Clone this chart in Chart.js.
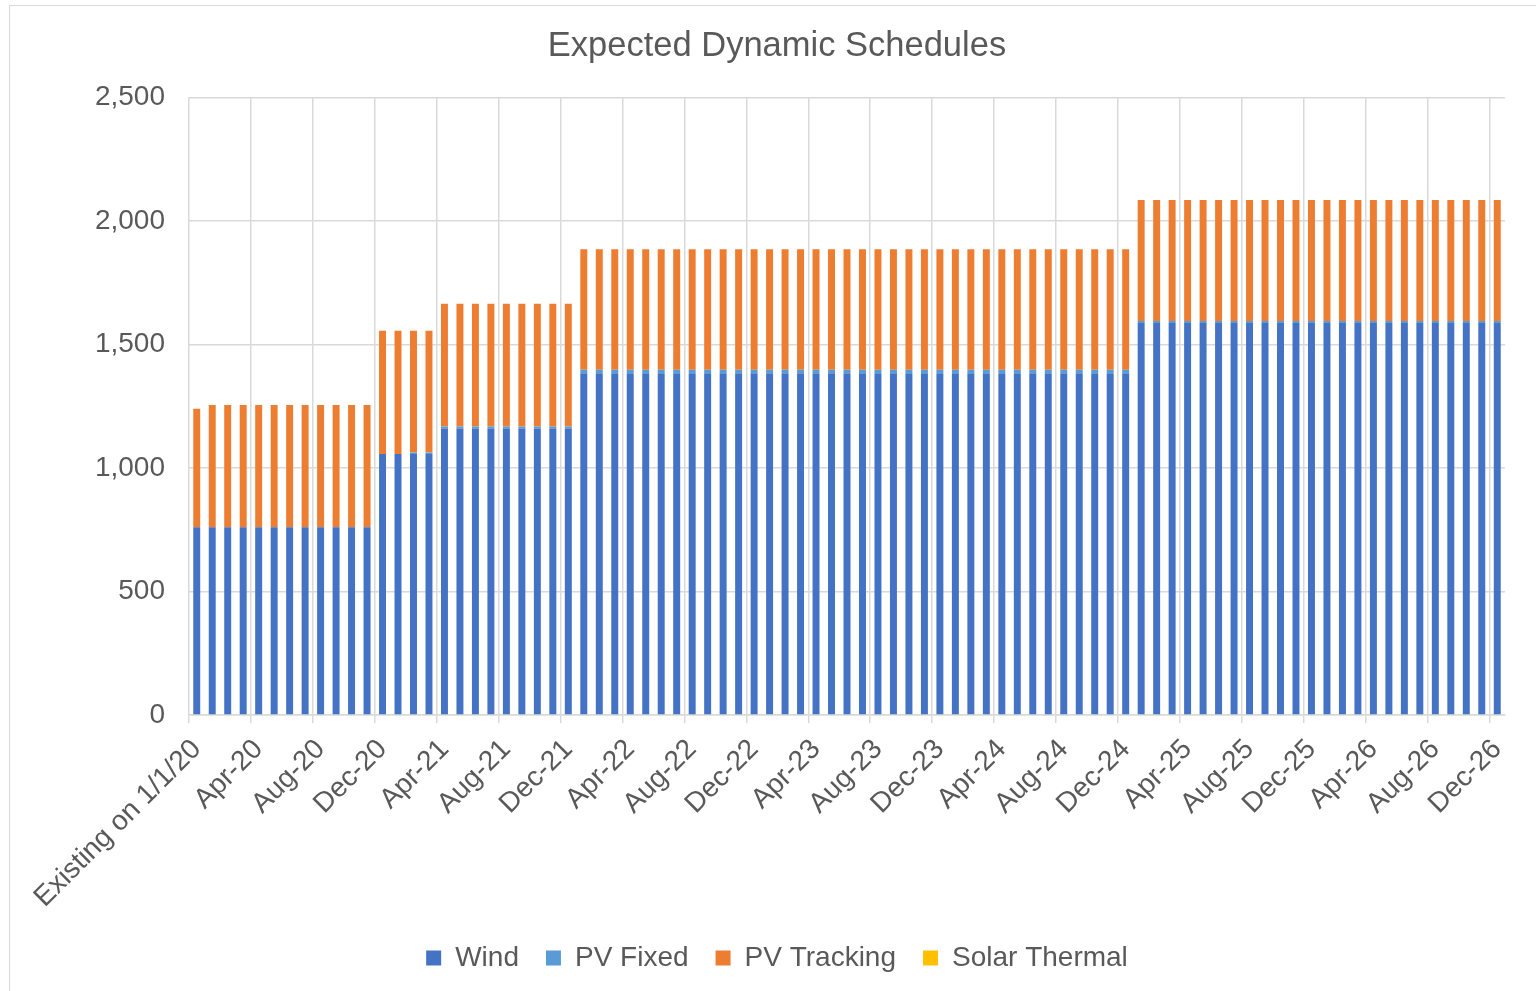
<!DOCTYPE html>
<html>
<head>
<meta charset="utf-8">
<title>Expected Dynamic Schedules</title>
<script src="https://cdn.jsdelivr.net/npm/chart.js@4.4.1/dist/chart.umd.min.js"></script>
<style>
  html, body { margin: 0; padding: 0; background: #fff; }
  #wrap { position: relative; width: 1536px; height: 991px; }
  #frame { position: absolute; left: 9px; top: 5px; right: 0; bottom: 0; border-left: 1px solid #d9d9d9; border-top: 1px solid #d9d9d9; pointer-events: none; }
</style>
</head>
<body>
<div id="wrap">
  <canvas id="schedule-chart" width="1536" height="991"></canvas>
  <div id="frame"></div>
</div>
<script>

// categories: the existing fleet, then one column per month Jan-20 .. Dec-26
const months = ['Jan', 'Feb', 'Mar', 'Apr', 'May', 'Jun', 'Jul', 'Aug', 'Sep', 'Oct', 'Nov', 'Dec'];
const years = ['20', '21', '22', '23', '24', '25', '26'];
const categories = ['Existing on 1/1/20'];
years.forEach(y => months.forEach(m => categories.push(m + '-' + y)));

// MW per column
const wind = [
	760, 760, 760, 760, 760, 760, 760, 760, 760, 760, 760, 760,
	1057, 1057, 1057, 1057,
	1160, 1160, 1160, 1160, 1160, 1160, 1160, 1160, 1160,
	1380, 1380, 1380, 1380, 1380, 1380, 1380, 1380, 1380, 1380, 1380, 1380,
	1380, 1380, 1380, 1380, 1380, 1380, 1380, 1380, 1380, 1380, 1380, 1380,
	1380, 1380, 1380, 1380, 1380, 1380, 1380, 1380, 1380, 1380, 1380, 1380,
	1587, 1587, 1587, 1587, 1587, 1587, 1587, 1587, 1587, 1587, 1587, 1587,
	1587, 1587, 1587, 1587, 1587, 1587, 1587, 1587, 1587, 1587, 1587, 1587
];
const pvFixed = [
	0, 0, 0, 0, 0, 0, 0, 0, 0, 0, 0, 0,
	0, 0, 6, 6,
	8, 8, 8, 8, 8, 8, 8, 8, 8,
	18, 18, 18, 18, 18, 18, 18, 18, 18, 18, 18, 18,
	18, 18, 18, 18, 18, 18, 18, 18, 18, 18, 18, 18,
	18, 18, 18, 18, 18, 18, 18, 18, 18, 18, 18, 18,
	8, 8, 8, 8, 8, 8, 8, 8, 8, 8, 8, 8,
	8, 8, 8, 8, 8, 8, 8, 8, 8, 8, 8, 8
];
const pvTracking = [
	480, 495, 495, 495, 495, 495, 495, 495, 495, 495, 495, 495,
	498, 498, 492, 492,
	497, 497, 497, 497, 497, 497, 497, 497, 497,
	487, 487, 487, 487, 487, 487, 487, 487, 487, 487, 487, 487,
	487, 487, 487, 487, 487, 487, 487, 487, 487, 487, 487, 487,
	487, 487, 487, 487, 487, 487, 487, 487, 487, 487, 487, 487,
	490, 490, 490, 490, 490, 490, 490, 490, 490, 490, 490, 490,
	490, 490, 490, 490, 490, 490, 490, 490, 490, 490, 490, 490
];
const solarThermal = [
	0, 0, 0, 0, 0, 0, 0, 0, 0, 0, 0, 0,
	0, 0, 0, 0,
	0, 0, 0, 0, 0, 0, 0, 0, 0,
	0, 0, 0, 0, 0, 0, 0, 0, 0, 0, 0, 0,
	0, 0, 0, 0, 0, 0, 0, 0, 0, 0, 0, 0,
	0, 0, 0, 0, 0, 0, 0, 0, 0, 0, 0, 0,
	0, 0, 0, 0, 0, 0, 0, 0, 0, 0, 0, 0,
	0, 0, 0, 0, 0, 0, 0, 0, 0, 0, 0, 0
];
const yTicks = [0, 500, 1000, 1500, 2000, 2500];

const textColor = '#595959';
const gridColor = '#d9d9d9';
const fontFamily = "'Liberation Sans', Arial, sans-serif";

new Chart(document.getElementById('schedule-chart'), {
	type: 'bar',
	data: {
		labels: categories,
		datasets: [
			{ label: 'Wind', data: wind, backgroundColor: '#4472c4' },
			{ label: 'PV Fixed', data: pvFixed, backgroundColor: '#5b9bd5' },
			{ label: 'PV Tracking', data: pvTracking, backgroundColor: '#ed7d31' },
			{ label: 'Solar Thermal', data: solarThermal, backgroundColor: '#ffc000' }
		]
	},
	options: {
		responsive: false,
		animation: false,
		barPercentage: 0.45,
		categoryPercentage: 1,
		layout: {
			padding: { left: 18, right: 0, top: 0, bottom: 9 }
		},
		plugins: {
			title: {
				display: true,
				text: 'Expected Dynamic Schedules',
				color: textColor,
				font: { family: fontFamily, size: 34.5, weight: 'normal' },
				padding: { top: 26, bottom: 30 }
			},
			legend: {
				position: 'bottom',
				labels: {
					color: textColor,
					font: { family: fontFamily, size: 28 },
					boxWidth: 15,
					boxHeight: 15,
					padding: 27
				}
			},
			tooltip: { enabled: false }
		},
		scales: {
			x: {
				stacked: true,
				grid: {
					offset: true,
					color: ctx => (ctx.index % 4 === 0 ? gridColor : 'rgba(0,0,0,0)'),
					tickColor: ctx => (ctx.index % 4 === 0 ? gridColor : 'rgba(0,0,0,0)'),
					lineWidth: 1.5,
					tickLength: 8
				},
				border: { color: gridColor, width: 1.5 },
				ticks: {
					autoSkip: false,
					maxRotation: 45,
					minRotation: 45,
					padding: 10,
					color: textColor,
					font: { family: fontFamily, size: 28 },
					callback: (v, i) => (i % 4 === 0 ? categories[i] : '')
				},
				afterFit: axis => { axis.height = 202; }
			},
			y: {
				stacked: true,
				min: yTicks[0],
				max: yTicks[yTicks.length - 1],
				afterBuildTicks: axis => { axis.ticks = yTicks.map(v => ({ value: v })); },
				afterFit: axis => { axis.width = 171; },
				grid: { color: gridColor, lineWidth: 1.5, drawTicks: false },
				border: { display: false },
				ticks: {
					padding: 24,
					color: textColor,
					font: { family: fontFamily, size: 28 },
					callback: v => v.toLocaleString('en-US')
				}
			},
			// empty right-hand strip so the plot ends where the reference does
			gap: {
				position: 'right',
				display: true,
				grid: { display: false },
				border: { display: false },
				ticks: { display: false },
				afterFit: axis => { axis.width = 31; }
			}
		}
	}
});

</script>
</body>
</html>
